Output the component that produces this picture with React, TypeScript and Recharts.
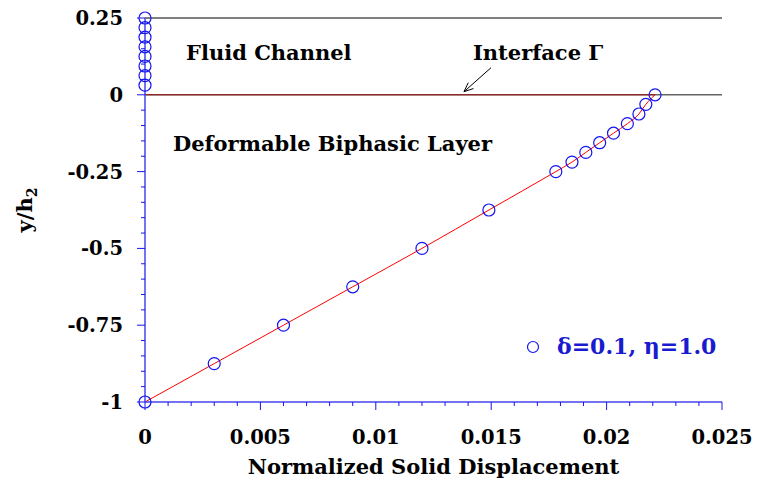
import { ComposedChart, Line, Scatter, XAxis, YAxis, ReferenceLine, Legend } from 'recharts';

// points in the fluid channel (all at zero displacement)
const fluidX = [0, 0, 0, 0, 0, 0, 0, 0];
const fluidY = [0.25, 0.21875, 0.1875, 0.15625, 0.125, 0.09375, 0.0625, 0.03125];

// points in the deformable biphasic layer
const layerX = [0, 0.003, 0.006, 0.009, 0.012, 0.0149, 0.0178, 0.0185, 0.0191, 0.0197, 0.0203, 0.0209, 0.0214, 0.0217, 0.0221];
const layerY = [-1, -0.875, -0.75, -0.625, -0.5, -0.375, -0.25, -0.219, -0.1875, -0.156, -0.125, -0.094, -0.0625, -0.031, 0];

const xMajor = [0, 0.005, 0.01, 0.015, 0.02, 0.025];
const yMajor = [-1, -0.75, -0.5, -0.25, 0, 0.25];
const xTicks = Array.from({ length: 26 }, (_, i) => i / 1000);
const yTicks = Array.from({ length: 26 }, (_, i) => Math.round((-1 + i * 0.05) * 100) / 100);

const legendLabel = 'δ=0.1, η=1.0';

const BLUE = '#1515f0';
const AXIS = '#4646ee';
const FONT = '"DejaVu Serif", serif';

const markers = [...fluidX.map((x, i) => ({ x, y: fluidY[i] })), ...layerX.map((x, i) => ({ x, y: layerY[i] }))];
const curve = layerX.map((x, i) => ({ x, y: layerY[i] }));

const isMajor = (list: number[], v: number) => list.some((m) => Math.abs(m - v) < 1e-9);

const XTick = (props: any) => {
  const { x, y, payload } = props;
  const major = isMajor(xMajor, payload.value);
  return (
    <g>
      <line x1={x} x2={x} y1={y} y2={y + (major ? 8 : 4)} stroke={BLUE} strokeWidth={1} />
      {major && (
        <text x={x} y={y + 42} textAnchor="middle" fontFamily={FONT} fontWeight="bold" fontSize={19.5} fill="#000">
          {String(payload.value)}
        </text>
      )}
    </g>
  );
};

const YTick = (props: any) => {
  const { x, y, payload } = props;
  const major = isMajor(yMajor, payload.value);
  return (
    <g>
      <line x1={x} x2={x - (major ? 8 : 4)} y1={y} y2={y} stroke={BLUE} strokeWidth={1} />
      {major && (
        <text x={x - 22} y={y + 7} textAnchor="end" fontFamily={FONT} fontWeight="bold" fontSize={19.5} fill="#000">
          {String(payload.value)}
        </text>
      )}
    </g>
  );
};

const Circle = (props: any) => (
  <circle cx={props.cx} cy={props.cy} r={6} fill="none" stroke={BLUE} strokeWidth={1.2} />
);

const Arrow = (props: any) => {
  const { x1, y1, x2, y2 } = props;
  const a = Math.atan2(y2 - y1, x2 - x1);
  const len = 10;
  const s = 0.4;
  return (
    <g stroke="#000" strokeWidth={1} fill="none">
      <line x1={x1} y1={y1} x2={x2} y2={y2} />
      <line x1={x2} y1={y2} x2={x2 - len * Math.cos(a - s)} y2={y2 - len * Math.sin(a - s)} />
      <line x1={x2} y1={y2} x2={x2 - len * Math.cos(a + s)} y2={y2 - len * Math.sin(a + s)} />
    </g>
  );
};

const LegendBox = () => (
  <svg width={230} height={30} style={{ display: 'block' }}>
    <circle cx={13} cy={14} r={5.5} fill="none" stroke={BLUE} strokeWidth={1.2} />
    <text x={37} y={21} fontFamily={FONT} fontWeight="bold" fontSize={22} fill="#1a1ad0">
      {legendLabel}
    </text>
  </svg>
);

const labelStyle = { fontFamily: FONT, fontWeight: 'bold' as const, fontSize: 21, fill: '#000' };

export default function App() {
  return (
    <div style={{ position: 'relative', width: 759, height: 498, background: '#fff' }}>
      <style>{'body{margin:0}'}</style>
      <ComposedChart width={759} height={498} margin={{ top: 18, right: 37, bottom: 0, left: 0 }}>
        <XAxis
          type="number"
          dataKey="x"
          domain={[0, 0.025]}
          ticks={xTicks}
          interval={0}
          height={96}
          tickSize={0}
          tickMargin={0}
          tickLine={false}
          tick={<XTick />}
          axisLine={{ stroke: AXIS, strokeWidth: 1.5 }}
          label={{ value: 'Normalized Solid Displacement', position: 'insideBottom', offset: 24, style: labelStyle }}
        />
        <YAxis
          type="number"
          dataKey="y"
          domain={[-1, 0.25]}
          ticks={yTicks}
          interval={0}
          width={145}
          tickSize={0}
          tickMargin={0}
          tickLine={false}
          tick={<YTick />}
          axisLine={{ stroke: AXIS, strokeWidth: 1.5 }}
          label={{
            content: (p: any) => {
              const vb = p.viewBox;
              const cx = 32;
              const cy = vb.y + vb.height / 2;
              return (
                <text transform={`translate(${cx},${cy}) rotate(-90)`} textAnchor="middle" style={labelStyle}>
                  y/h<tspan fontSize={14} dy={5}>2</tspan>
                </text>
              );
            },
          }}
        />
        <ReferenceLine y={0.25} stroke="#000" strokeWidth={1} />
        <ReferenceLine y={0} stroke="#666" strokeWidth={1.5} />
        <ReferenceLine
          segment={[{ x: 0, y: 0 }, { x: layerX[layerX.length - 1], y: 0 }]}
          stroke="#a01010"
          strokeWidth={1}
        />
        <ReferenceLine
          segment={[{ x: 0.01499, y: 0.088 }, { x: 0.01382, y: 0.01 }]}
          shape={<Arrow />}
        />
        <Line data={curve} dataKey="y" type="monotoneX" stroke="#ff0000" strokeWidth={1} dot={false} isAnimationActive={false} legendType="none" />
        <Scatter data={markers} dataKey="y" shape={<Circle />} isAnimationActive={false} name={legendLabel} />
        <Legend
          layout="horizontal"
          verticalAlign="middle"
          align="center"
          content={<LegendBox />}
          wrapperStyle={{ left: 520, top: 333, width: 230 }}
        />
        <text x={186} y={60} style={labelStyle}>Fluid Channel</text>
        <text x={473} y={60} style={labelStyle}>Interface Γ</text>
        <text x={173} y={151} style={labelStyle}>Deformable Biphasic Layer</text>
      </ComposedChart>
    </div>
  );
}
